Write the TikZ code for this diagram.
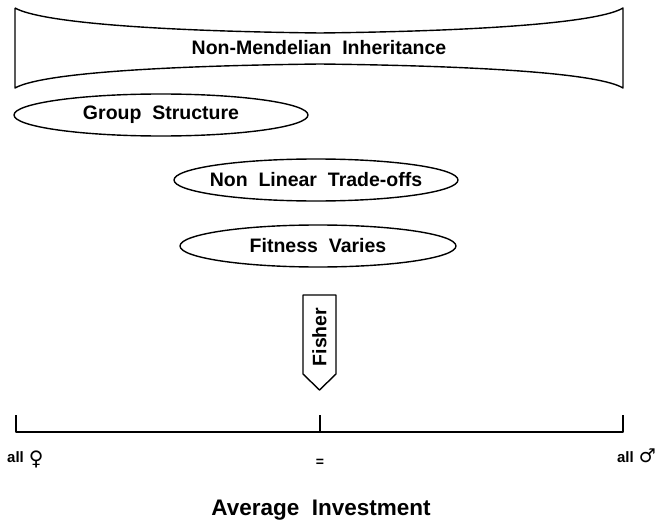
\documentclass[tikz,border=0pt]{standalone}
\usepackage{fontspec}
\setmainfont{Liberation Sans}
\newfontfamily\symfont{DejaVu Sans}
\usetikzlibrary{shapes.geometric,calc}
\begin{document}
\begin{tikzpicture}[x=1pt,y=-1pt,
  lbl/.style={font=\bfseries\fontsize{19.5}{22}\selectfont, inner sep=0pt},
  ln/.style={line width=1.4pt, line join=round}]
\useasboundingbox (0,0) rectangle (656,524);
% banner
\draw[ln] (15,8) -- (15,88)
  .. controls (40,74) and (150,66) .. (320,64)
  .. controls (490,66) and (600,74) .. (623,88)
  -- (623,8)
  .. controls (600,22) and (490,31) .. (320,33)
  .. controls (150,31) and (40,22) .. (15,8);
\node[lbl] (nmi) at (319,48) {Non-Mendelian\ \ Inheritance};
% ellipses
\node[lbl] (gs) at (161,115) {Group\ \ Structure};
\draw[ln] (gs.center) ellipse [x radius=147, y radius=21];
\node[lbl] (nl) at (316,180) {Non\ \ Linear\ \ Trade-offs};
\draw[ln] (nl.center) ellipse [x radius=142, y radius=21];
\node[lbl] (fv) at (318,246) {Fitness\ \ Varies};
\draw[ln] (fv.center) ellipse [x radius=138, y radius=21];
% Fisher arrow
\draw[ln] (303,295) -- (336,295) -- (336,374) -- (319.5,390) -- (303,374) -- cycle;
\node[lbl, rotate=90] (fisher) at (319.5,337) {Fisher};
% axis
\coordinate (al) at (16,432);
\coordinate (ar) at (623,432);
\coordinate (am) at (320,432);
\draw[ln] ($(al)+(0,-17)$) -- (al) -- (ar) -- ($(ar)+(0,-17)$);
\draw[ln] ($(am)+(0,-17)$) -- (am);
\node[lbl, font=\bfseries\fontsize{15}{17}\selectfont, anchor=base west] (af) at (7,462) {all\hspace{5pt}{\symfont\fontsize{20}{20}\selectfont\raisebox{-3pt}{♀}}};
\node[lbl, font=\bfseries\fontsize{14}{16}\selectfont, anchor=base] (eq) at (320,466) {=};
\node[lbl, font=\bfseries\fontsize{15}{17}\selectfont, anchor=base east] (am2) at (656,462) {all\hspace{5pt}{\symfont\fontsize{19}{19}\selectfont ♂}};
\node[lbl, font=\bfseries\fontsize{22.5}{25}\selectfont] (avg) at (321,510) {Average\ \ Investment};
\end{tikzpicture}
\end{document}
